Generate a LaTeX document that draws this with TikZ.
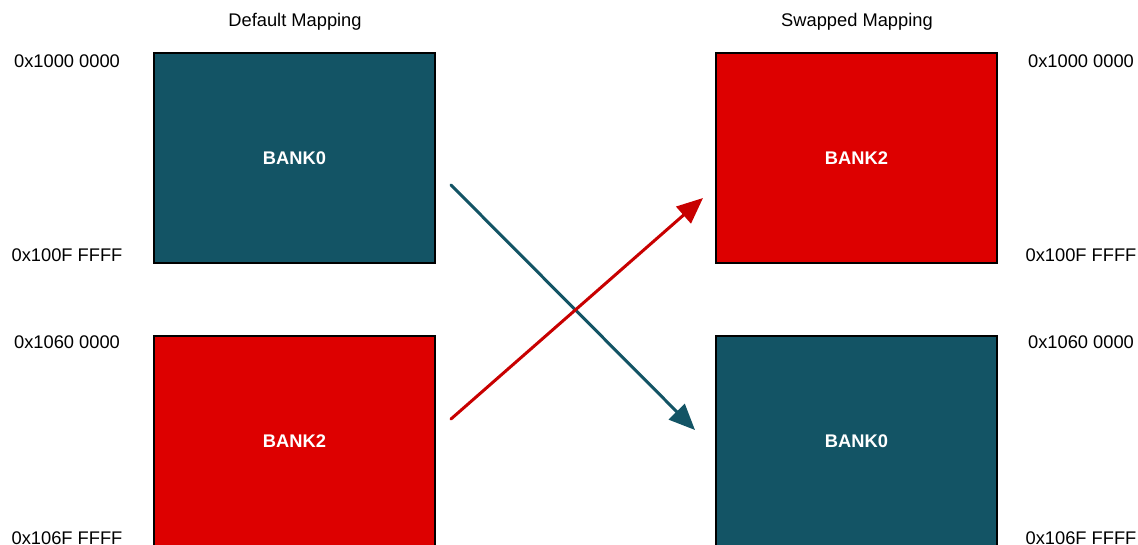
\documentclass[tikz,border=0pt]{standalone}
\usepackage{fontspec}
\setmainfont{Liberation Sans}
\usetikzlibrary{arrows.meta}
\definecolor{bankteal}{HTML}{135465}
\definecolor{bankred}{HTML}{DD0000}
\definecolor{arrowred}{HTML}{C80000}
\begin{document}
\begin{tikzpicture}[x=1pt,y=1pt,
  bank/.style={draw=black,line width=2.5pt,minimum width=281pt,minimum height=210pt,inner sep=0pt,outer sep=0pt,
    text=white,font=\fontsize{18.3}{20}\selectfont\bfseries,anchor=north west},
  addr/.style={font=\fontsize{18.3}{20}\selectfont,text=black,inner sep=0pt},
  ttl/.style={font=\fontsize{18.3}{20}\selectfont,text=black,inner sep=0pt},
  swap/.style={line width=3pt,line cap=round,-{Triangle[length=26pt,width=22pt]}}]
\useasboundingbox (0,0) rectangle (1138,-544);
\clip (0,0) rectangle (1138,-544);
\node[ttl] (t1) at (295,-22) {Default Mapping};
\node[ttl] (t2) at (857,-22) {Swapped Mapping};
\node[bank,fill=bankteal] (l0) at (154,-53) {BANK0};
\node[bank,fill=bankred] (l2) at (154,-336) {BANK2};
\node[bank,fill=bankred] (r2) at (716,-53) {BANK2};
\node[bank,fill=bankteal] (r0) at (716,-336) {BANK0};
\node[addr] (a1) at (67,-61) {0x1000 0000};
\node[addr] (a2) at (67,-255) {0x100F FFFF};
\node[addr] (a3) at (67,-342) {0x1060 0000};
\node[addr] (a4) at (67,-538) {0x106F FFFF};
\node[addr] (b1) at (1081,-61) {0x1000 0000};
\node[addr] (b2) at (1081,-255) {0x100F FFFF};
\node[addr] (b3) at (1081,-342) {0x1060 0000};
\node[addr] (b4) at (1081,-538) {0x106F FFFF};
\coordinate (s0) at (451,-185);
\coordinate (e0) at (695,-430);
\coordinate (s2) at (451,-419);
\coordinate (e2) at (703,-198);
\draw[swap,draw=bankteal,fill=bankteal] (s0) -- (e0);
\draw[swap,draw=arrowred,fill=arrowred] (s2) -- (e2);
\end{tikzpicture}
\end{document}
